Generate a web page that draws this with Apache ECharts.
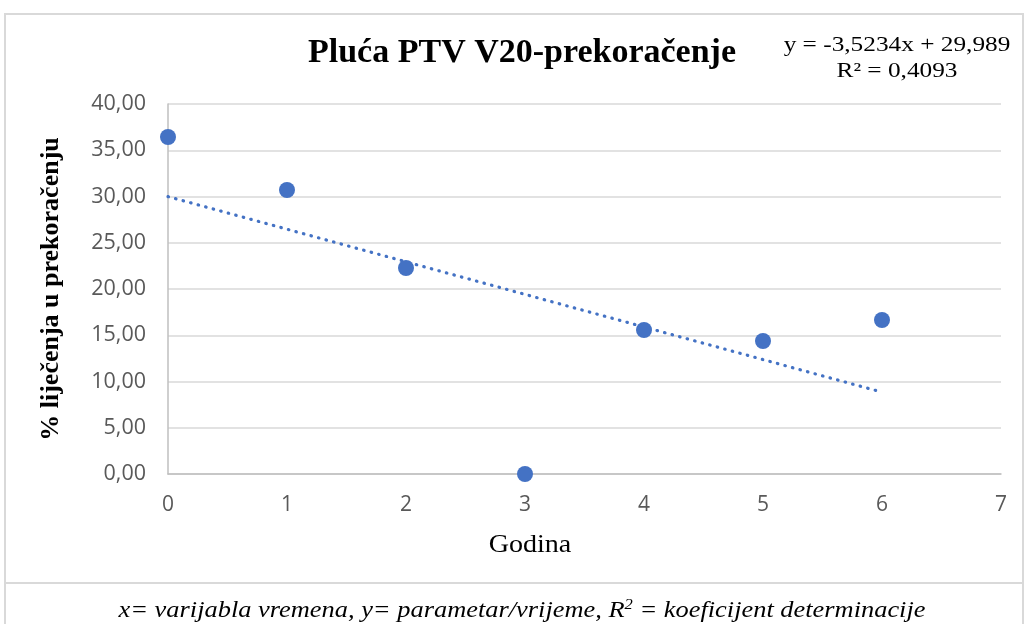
<!DOCTYPE html>
<html>
<head>
<meta charset="utf-8">
<script src="https://cdn.jsdelivr.net/npm/echarts@6/dist/echarts.min.js"></script>
<style>
html,body{margin:0;padding:0;background:#fff;}
#chart{width:1026px;height:624px;}
</style>
</head>
<body>
<div id="chart"></div>
<script>
// Data
const years = [0, 1, 2, 3, 4, 5, 6];
const values = [36.43, 30.7, 22.27, 0.0, 15.57, 14.38, 16.65];
// Linear trend coefficients (as printed on the chart)
const trendSlope = -3.5234;
const trendIntercept = 29.989;
const equationText = 'y = -3,5234x + 29,989';
const rSquaredText = 'R² = 0,4093';
const yTicks = ['0,00','5,00','10,00','15,00','20,00','25,00','30,00','35,00','40,00'];
const xTicks = ['0','1','2','3','4','5','6','7'];

const scatterData = years.map((x, i) => [x, values[i]]);
const trendData = [years[0], years[years.length - 1]].map(x => [x, trendIntercept + trendSlope * x]);

const chart = echarts.init(document.getElementById('chart'));
const serif = '"Liberation Serif", "Times New Roman", serif';
const sans = '"Open Sans", "Noto Sans", sans-serif';

chart.setOption({
  animation: false,
  backgroundColor: '#fff',
  grid: { left: 168, right: 25, top: 104, bottom: 150 },
  xAxis: {
    type: 'value', min: 0, max: 7, interval: 1,
    axisLine: { show: true, onZero: false, lineStyle: { color: '#bfbfbf', width: 1.5 } },
    axisTick: { show: false },
    splitLine: { show: false },
    axisLabel: { color: '#595959', fontFamily: sans, fontSize: 21, margin: 21,
      formatter: v => xTicks[Math.round(v)] }
  },
  yAxis: {
    type: 'value', min: 0, max: 40, interval: 5,
    name: '% liječenja u prekoračenju', nameLocation: 'middle', nameGap: 104,
    nameTextStyle: { fontFamily: serif, fontSize: 26, fontWeight: 'bold', color: '#000' },
    axisLine: { show: true, lineStyle: { color: '#bfbfbf', width: 1.5 } },
    axisTick: { show: false },
    splitLine: { show: true, lineStyle: { color: '#d9d9d9', width: 1.5 } },
    axisLabel: { color: '#595959', fontFamily: sans, fontSize: 21.5, margin: 22,
      formatter: v => yTicks[Math.round(v / 5)] }
  },
  graphic: [
    { type: 'rect', silent: true, shape: { x: 5, y: 14, width: 1018, height: 569 }, style: { fill: 'none', stroke: '#d9d9d9', lineWidth: 2 } },
    { type: 'rect', silent: true, shape: { x: 5, y: 583, width: 1018, height: 50 }, style: { fill: 'none', stroke: '#d9d9d9', lineWidth: 2 } },
    { type: 'text', silent: true, x: 522, y: 53,
      style: { text: 'Pluća PTV V20-prekoračenje', align: 'center', verticalAlign: 'middle',
        font: 'bold 34px ' + serif, fill: '#000' } },
    { type: 'text', silent: true, x: 897, y: 45, scaleX: 1.15,
      style: { text: equationText, align: 'center', verticalAlign: 'middle', font: '22px ' + serif, fill: '#000' } },
    { type: 'text', silent: true, x: 897, y: 71, scaleX: 1.15,
      style: { text: rSquaredText, align: 'center', verticalAlign: 'middle', font: '22px ' + serif, fill: '#000' } },
    { type: 'text', silent: true, x: 530, y: 545, scaleX: 1.08,
      style: { text: 'Godina', align: 'center', verticalAlign: 'middle', font: '26px ' + serif, fill: '#000' } },
    { type: 'text', silent: true, x: 522, y: 611, scaleX: 1.1,
      style: { align: 'center', verticalAlign: 'middle',
        text: '{i|x= varijabla vremena, y= parametar/vrijeme, R}{s|2}{i| = koeficijent determinacije}',
        rich: {
          i: { fontFamily: serif, fontStyle: 'italic', fontSize: 24, color: '#000' },
          s: { fontFamily: serif, fontStyle: 'italic', fontSize: 15, color: '#000', verticalAlign: 'top', padding: [0,0,12,0] }
        } } }
  ],
  series: [
    {
      type: 'line', data: trendData, symbol: 'none', silent: true,
      lineStyle: { color: '#4472C4', width: 3.2, type: [0.5, 7.3], cap: 'round' }, z: 2
    },
    {
      type: 'scatter', data: scatterData, symbolSize: 16,
      itemStyle: { color: '#4472C4', opacity: 1 }, z: 3
    }
  ]
});
</script>
</body>
</html>
